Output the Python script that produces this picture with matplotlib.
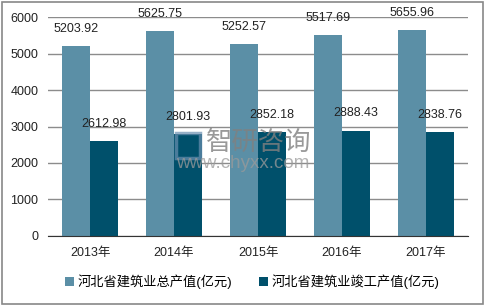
import matplotlib
matplotlib.use('Agg')
import matplotlib.pyplot as plt
from matplotlib.patches import Rectangle
import numpy as np

plt.rcParams['font.family'] = ['Liberation Sans', 'Noto Sans CJK SC']

years = ['2013年', '2014年', '2015年', '2016年', '2017年']
total = [5203.92, 5625.75, 5252.57, 5517.69, 5655.96]   # 总产值
done = [2612.98, 2801.93, 2852.18, 2888.43, 2838.76]    # 竣工产值
names = ['河北省建筑业总产值(亿元)', '河北省建筑业竣工产值(亿元)']
yticks = [0, 1000, 2000, 3000, 4000, 5000, 6000]

c1 = '#5b8fa6'
c2 = '#00506b'

fig = plt.figure(figsize=(4.85, 3.06), dpi=100)
ax = fig.add_axes([0.099, 0.229, 0.866, 0.715])

x = np.arange(len(years))
w = 1/3
b1 = ax.bar(x - w/2, total, w, color=c1, label=names[0], zorder=2)
b2 = ax.bar(x + w/2, done, w, color=c2, label=names[1], zorder=2)

for bars, vals in ((b1, total), (b2, done)):
    for r, v in zip(bars, vals):
        ax.annotate('%.2f' % v, (r.get_x() + r.get_width()/2, v),
                    xytext=(0, 8), textcoords='offset points',
                    ha='center', va='bottom', fontsize=9, color='#222222', zorder=4)

ax.set_xlim(-0.5, len(years) - 0.5)
ax.set_ylim(0, 6000)
ax.set_yticks(yticks)
ax.set_xticks(x)
ax.set_xticklabels(years)
ax.tick_params(length=0, labelsize=9, colors='#222222')
ax.tick_params(axis='x', pad=8)
ax.tick_params(axis='y', pad=7)
ax.yaxis.grid(True, color='#8c8c8c', linewidth=1, zorder=0)
ax.set_axisbelow(True)
for s in ['left', 'right', 'top']:
    ax.spines[s].set_visible(False)
ax.spines['bottom'].set_color('#333333')

# watermark
fig.patches.append(Rectangle((0.362, 0.485), 0.05, 0.08, transform=fig.transFigure,
                             fill=False, edgecolor='#6a8fb0', linewidth=2.5, alpha=0.7, zorder=5))
fig.text(0.533, 0.535, '智研咨询', fontsize=19, color='#808080', alpha=0.8,
         ha='center', va='center', zorder=5)
fig.text(0.50, 0.466, 'www.chyxx.com', fontsize=13.5, color='#9a9a9a', alpha=0.75,
         ha='center', va='center', zorder=5)

fig.legend(handles=[b1, b2], loc='center', bbox_to_anchor=(0.52, 0.078), ncol=2,
           frameon=False, fontsize=9.5, handlelength=0.7, handleheight=0.7,
           handletextpad=0.3, columnspacing=2.0)

fig.patches.append(Rectangle((0.005, 0.008), 0.99, 0.985, transform=fig.transFigure,
                             fill=False, edgecolor='#888888', linewidth=1.2))

fig.savefig('out.png', dpi=100)
